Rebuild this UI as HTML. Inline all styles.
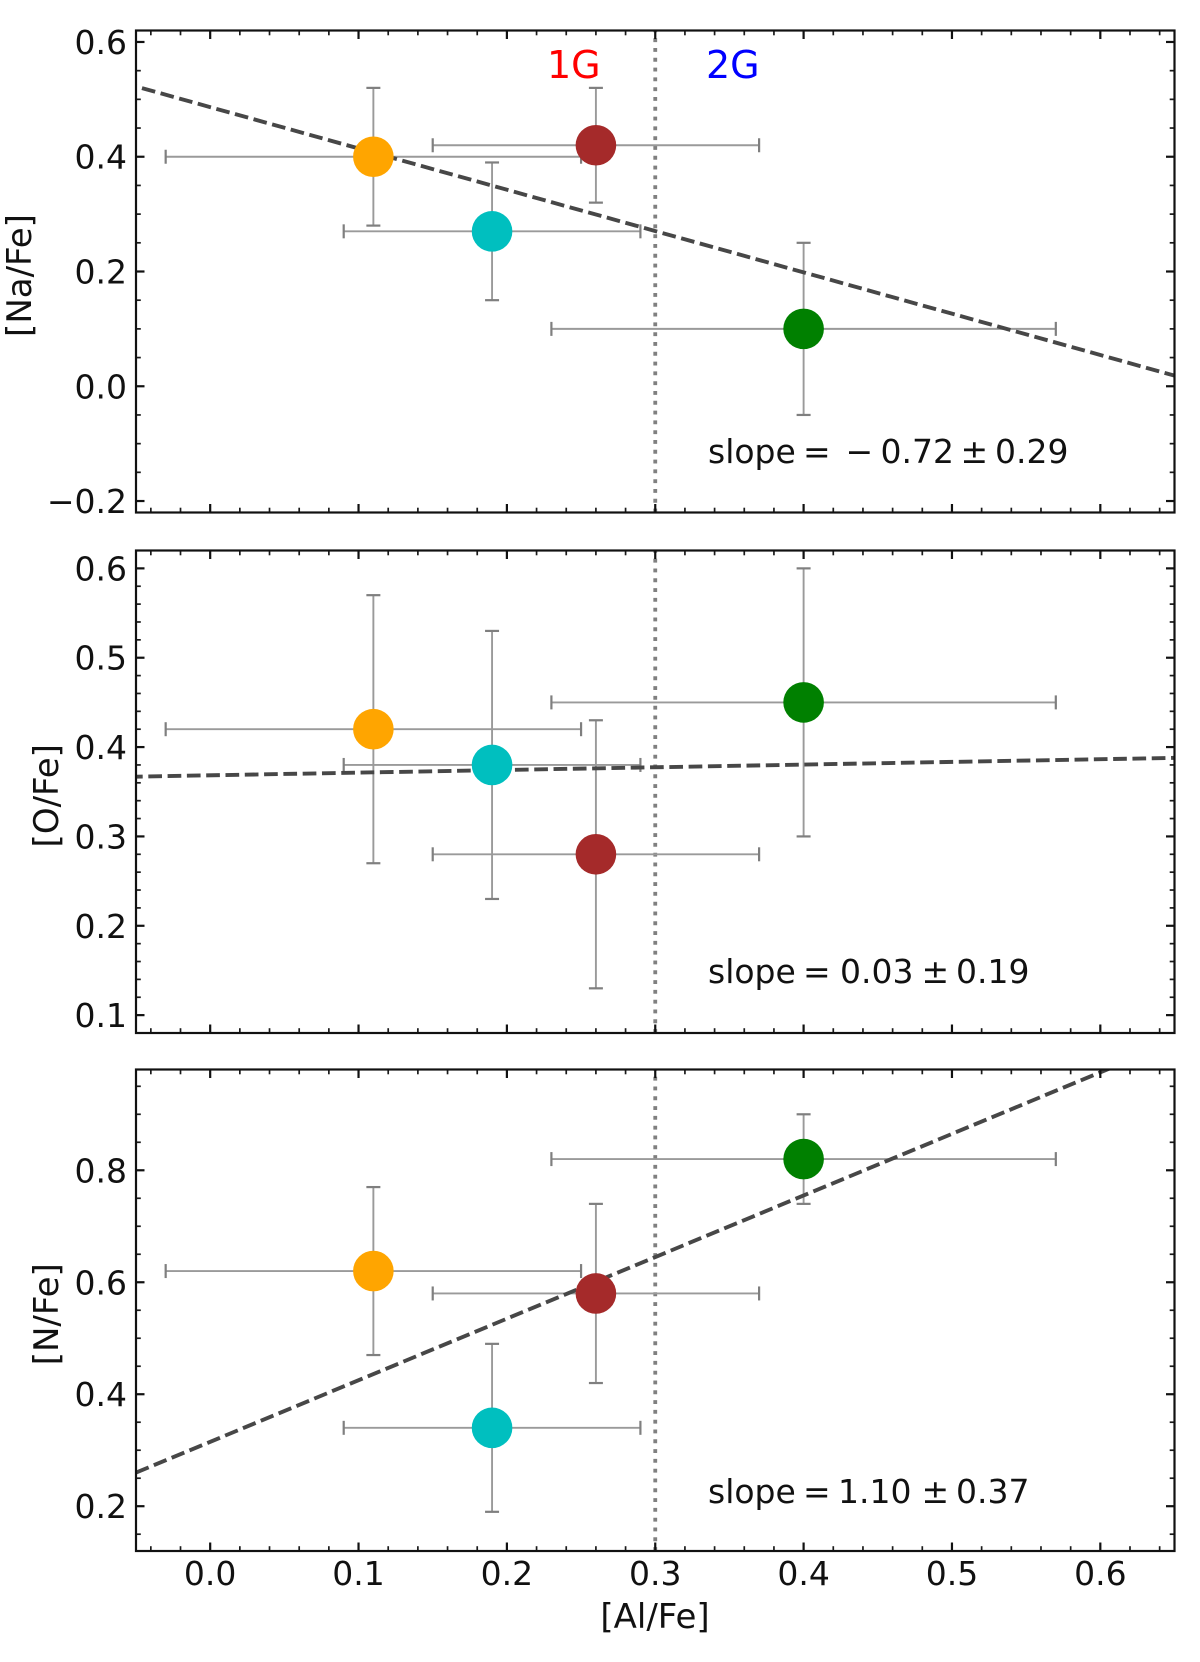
<!DOCTYPE html>
<html lang="en">
<head>
<meta charset="utf-8">
<title>Abundance correlations with [Al/Fe]</title>
<style>
html,body{margin:0;padding:0;background:#fff;}
svg{display:block;}
text{font-family:"DejaVu Sans","Liberation Sans",sans-serif;fill:#111;}
</style>
</head>
<body>
<svg id="figure" xmlns="http://www.w3.org/2000/svg" width="1200" height="1662" viewBox="0 0 1200 1662"></svg>
<script>
const categories = ['orange', 'cyan', 'brown', 'green'];
const markerColors = ['#ffa500', '#00bfbf', '#a52a2a', '#008000'];
const alFe = [0.11, 0.19, 0.26, 0.40];
const alFeErr = [0.14, 0.10, 0.11, 0.17];
const naFe = [0.40, 0.27, 0.42, 0.10];
const naFeErr = [0.12, 0.12, 0.10, 0.15];
const oFe = [0.42, 0.38, 0.28, 0.45];
const oFeErr = [0.15, 0.15, 0.15, 0.15];
const nFe = [0.62, 0.34, 0.58, 0.82];
const nFeErr = [0.15, 0.15, 0.16, 0.08];
const fitSlopes = [-0.72, 0.03, 1.10];
const fitIntercepts = [0.4865, 0.3684, 0.315];
const xLimits = [-0.05, 0.65];
const xTicks = [0.0, 0.1, 0.2, 0.3, 0.4, 0.5, 0.6];
const xTickLabels = ['0.0', '0.1', '0.2', '0.3', '0.4', '0.5', '0.6'];
const naLimits = [-0.22, 0.62];
const naTicks = [-0.2, 0.0, 0.2, 0.4, 0.6];
const naTickLabels = ['\u22120.2', '0.0', '0.2', '0.4', '0.6'];
const oLimits = [0.08, 0.62];
const oTicks = [0.1, 0.2, 0.3, 0.4, 0.5, 0.6];
const oTickLabels = ['0.1', '0.2', '0.3', '0.4', '0.5', '0.6'];
const nLimits = [0.12, 0.98];
const nTicks = [0.2, 0.4, 0.6, 0.8];
const nTickLabels = ['0.2', '0.4', '0.6', '0.8'];
const generationBoundary = 0.3;

const svgNS = 'http://www.w3.org/2000/svg';
const fig = document.getElementById('figure');
const plotLeft = 136;
const plotRight = 1174.5;

function make(parent, tag, attrs, txt) {
  const node = document.createElementNS(svgNS, tag);
  for (const k in attrs) node.setAttribute(k, attrs[k]);
  if (txt !== undefined) node.textContent = txt;
  parent.appendChild(node);
  return node;
}
function xScale(v) {
  return plotLeft + (v - xLimits[0]) / (xLimits[1] - xLimits[0]) * (plotRight - plotLeft);
}
function yScaleFor(limits, top, bottom) {
  return function (v) {
    return bottom - (v - limits[0]) / (limits[1] - limits[0]) * (bottom - top);
  };
}

function drawPanel(cfg, idx) {
  const yScale = yScaleFor(cfg.limits, cfg.top, cfg.bottom);
  const g = make(fig, 'g', {});
  
  

  const clipId = 'clip-' + cfg.key;
  const defs = make(g, 'defs', {});
  const clip = make(defs, 'clipPath', {id: clipId});
  make(clip, 'rect', {x: plotLeft, y: cfg.top, width: plotRight - plotLeft, height: cfg.bottom - cfg.top});

  // boundary line
  const boundary = make(g, 'line', {x1: xScale(generationBoundary), x2: xScale(generationBoundary), y1: cfg.bottom, y2: cfg.top,
    stroke: '#808080', 'stroke-width': 3.8, 'stroke-dasharray': '3.9 5.9'});
  
  

  // error bars
  categories.forEach(function (cat, i) {
    const px = xScale(alFe[i]);
    const py = yScale(cfg.values[i]);
    const xl = xScale(alFe[i] - alFeErr[i]);
    const xr = xScale(alFe[i] + alFeErr[i]);
    const yt = yScale(cfg.values[i] + cfg.errors[i]);
    const yb = yScale(cfg.values[i] - cfg.errors[i]);
    const eg = make(g, 'g', {});
    
    
    make(eg, 'line', {x1: xl, x2: xr, y1: py, y2: py, stroke: '#9a9a9a', 'stroke-width': 1.9});
    make(eg, 'line', {x1: px, x2: px, y1: yt, y2: yb, stroke: '#9a9a9a', 'stroke-width': 1.9});
    make(eg, 'line', {x1: xl, x2: xl, y1: py - 7, y2: py + 7, stroke: '#7f7f7f', 'stroke-width': 2.2});
    make(eg, 'line', {x1: xr, x2: xr, y1: py - 7, y2: py + 7, stroke: '#7f7f7f', 'stroke-width': 2.2});
    make(eg, 'line', {x1: px - 7, x2: px + 7, y1: yt, y2: yt, stroke: '#7f7f7f', 'stroke-width': 2.2});
    make(eg, 'line', {x1: px - 7, x2: px + 7, y1: yb, y2: yb, stroke: '#7f7f7f', 'stroke-width': 2.2});
  });

  // fit line
  const fitStart = xLimits[0];
  const fitEnd = xLimits[1];
  const fit = make(g, 'line', {
    x1: xScale(fitStart), y1: yScale(fitIntercepts[idx] + fitSlopes[idx] * fitStart),
    x2: xScale(fitEnd), y2: yScale(fitIntercepts[idx] + fitSlopes[idx] * fitEnd),
    stroke: '#474747', 'stroke-width': 3.9, 'stroke-dasharray': '13.7 5.6', 'stroke-dashoffset': cfg.dashPhase,
    'clip-path': 'url(#' + clipId + ')'});
  
  

  // markers
  categories.forEach(function (cat, i) {
    const dot = make(g, 'circle', {cx: xScale(alFe[i]), cy: yScale(cfg.values[i]), r: 20.3, fill: markerColors[i]});
    
    
  });

  // minor ticks
  const minorG = make(g, 'g', {stroke: '#1a1a1a', 'stroke-width': 1.7});
  
  
  for (let k = -2; k <= 32; k++) {
    const v = k * 0.02;
    if (v < xLimits[0] || v > xLimits[1] || k % 5 === 0) continue;
    make(minorG, 'line', {x1: xScale(v), x2: xScale(v), y1: cfg.bottom, y2: cfg.bottom - 4.8});
    make(minorG, 'line', {x1: xScale(v), x2: xScale(v), y1: cfg.top, y2: cfg.top + 4.8});
  }
  const step = Math.round(cfg.ticks[1] * 1000 - cfg.ticks[0] * 1000) / cfg.minorPerMajor / 1000;
  for (let k = Math.ceil(cfg.limits[0] / step - 1e-6); k * step <= cfg.limits[1] + 1e-9; k++) {
    const isMajor = cfg.ticks.some(function (t) { return Math.abs(t - k * step) < 1e-6; });
    if (isMajor) continue;
    const v = yScale(k * step);
    make(minorG, 'line', {x1: plotLeft, x2: plotLeft + 4.8, y1: v, y2: v});
    make(minorG, 'line', {x1: plotRight, x2: plotRight - 4.8, y1: v, y2: v});
  }

  // major x ticks
  const xAxis = make(g, 'g', {});
  
  
  xTicks.forEach(function (t, i) {
    const p = xScale(t);
    make(xAxis, 'line', {x1: p, x2: p, y1: cfg.bottom, y2: cfg.bottom - 8.5, stroke: '#111', 'stroke-width': 2.2});
    make(xAxis, 'line', {x1: p, x2: p, y1: cfg.top, y2: cfg.top + 8.5, stroke: '#111', 'stroke-width': 2.2});
    if (cfg.showX) {
      const lab = make(xAxis, 'text', {x: p, y: 1585, 'font-size': 33, 'text-anchor': 'middle'}, xTickLabels[i]);
      
      
    }
  });

  // major y ticks
  const yAxis = make(g, 'g', {});
  
  
  cfg.ticks.forEach(function (t, i) {
    const p = yScale(t);
    make(yAxis, 'line', {x1: plotLeft, x2: plotLeft + 8.5, y1: p, y2: p, stroke: '#111', 'stroke-width': 2.2});
    make(yAxis, 'line', {x1: plotRight, x2: plotRight - 8.5, y1: p, y2: p, stroke: '#111', 'stroke-width': 2.2});
    const lab = make(yAxis, 'text', {x: 127, y: p + 12, 'font-size': 33, 'text-anchor': 'end'}, cfg.tickLabels[i]);
    
    
  });

  // frame
  const frame = make(g, 'rect', {x: plotLeft, y: cfg.top, width: plotRight - plotLeft, height: cfg.bottom - cfg.top,
    fill: 'none', stroke: '#111', 'stroke-width': 2.2});
  
  

  // y label
  const cy = (cfg.top + cfg.bottom) / 2 + 4;
  const yTitle = make(g, 'text', {x: cfg.labelX, y: cy, 'font-size': 34, 'text-anchor': 'middle',
    transform: 'rotate(-90 ' + cfg.labelX + ' ' + cy + ')'}, cfg.title);
  
  

  // slope annotation
  const ann = make(g, 'text', {'font-size': 33, y: cfg.slopeY});
  
  
  cfg.slopeParts.forEach(function (part) {
    make(ann, 'tspan', {x: part[0]}, part[1]);
  });
}

const panels = [
  {key: 'na-fe', title: '[Na/Fe]', limits: naLimits, ticks: naTicks, tickLabels: naTickLabels, values: naFe, errors: naFeErr,
   top: 30.5, bottom: 512.5, minorPerMajor: 4, labelX: 31, showX: false, slopeY: 463, dashPhase: -6.2,
   slopeParts: [[708, 'slope'], [803, '='], [845.5, '\u2212'], [880.5, '0.72'], [960.5, '\u00b1'], [995, '0.29']]},
  {key: 'o-fe', title: '[O/Fe]', limits: oLimits, ticks: oTicks, tickLabels: oTickLabels, values: oFe, errors: oFeErr,
   top: 550.5, bottom: 1033, minorPerMajor: 5, labelX: 58, showX: false, slopeY: 983, dashPhase: -12.3,
   slopeParts: [[708, 'slope'], [803, '='], [840, '0.03'], [921.5, '\u00b1'], [956, '0.19']]},
  {key: 'n-fe', title: '[N/Fe]', limits: nLimits, ticks: nTicks, tickLabels: nTickLabels, values: nFe, errors: nFeErr,
   top: 1069.5, bottom: 1551, minorPerMajor: 4, labelX: 58, showX: true, slopeY: 1503, dashPhase: 0,
   slopeParts: [[708, 'slope'], [803, '='], [838, '1.10'], [921.5, '\u00b1'], [956, '0.37']]}
];
panels.forEach(drawPanel);

const label1G = make(fig, 'text', {x: 547, y: 78, 'font-size': 38, style: 'fill:#ff0000'}, '1G');


const label2G = make(fig, 'text', {x: 706, y: 78, 'font-size': 38, style: 'fill:#0000ff'}, '2G');


const xTitle = make(fig, 'text', {x: 655, y: 1628, 'font-size': 34, 'text-anchor': 'middle'}, '[Al/Fe]');


</script>
</body>
</html>
